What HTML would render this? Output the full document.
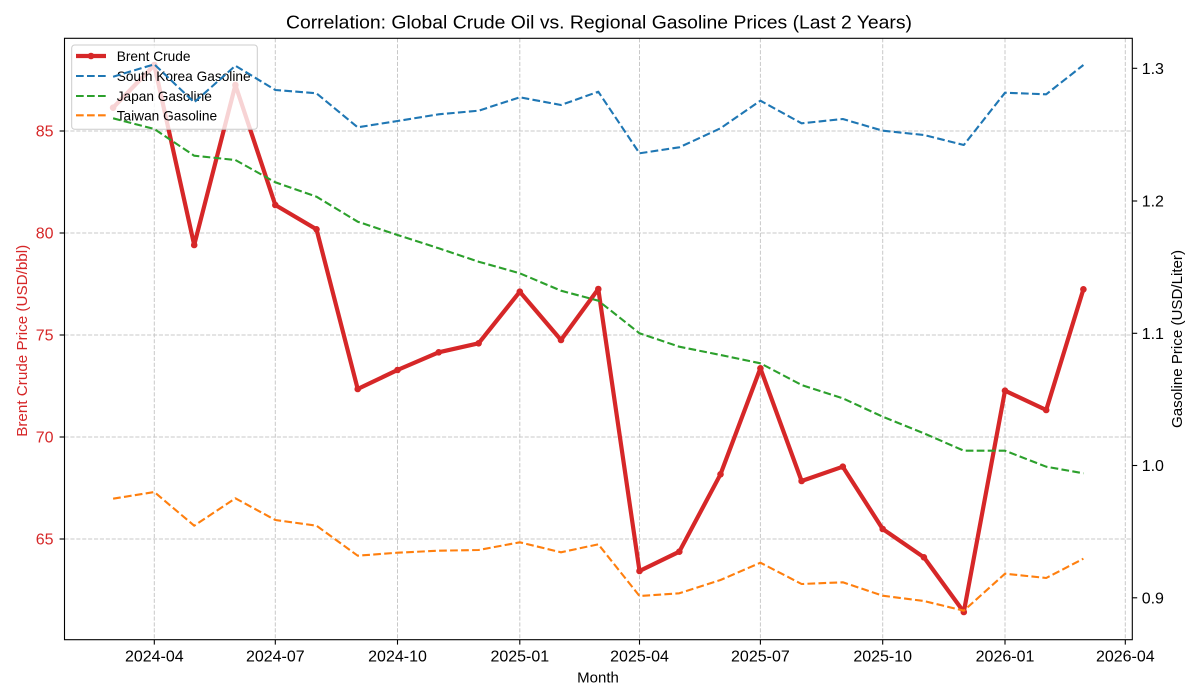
<!DOCTYPE html>
<html>
<head>
<meta charset="utf-8">
<style>
html,body{margin:0;padding:0;background:#fff;}
svg{display:block;font-family:"Liberation Sans",sans-serif;}
</style>
</head>
<body>
<svg width="1200" height="700" viewBox="0 0 1200 700" xmlns="http://www.w3.org/2000/svg">
<rect x="0" y="0" width="1200" height="700" fill="#fff"/>

<!-- Title -->
<text x="599" y="28.3" font-size="18" text-anchor="middle" fill="#000" textLength="626" lengthAdjust="spacingAndGlyphs">Correlation: Global Crude Oil vs. Regional Gasoline Prices (Last 2 Years)</text>

<!-- Grid -->
<g stroke="#c8c8c8" stroke-width="1" stroke-dasharray="4.1,1.8" fill="none">
  <line x1="64.5" y1="131" x2="1132.3" y2="131"/>
  <line x1="64.5" y1="233" x2="1132.3" y2="233"/>
  <line x1="64.5" y1="335" x2="1132.3" y2="335"/>
  <line x1="64.5" y1="437" x2="1132.3" y2="437"/>
  <line x1="64.5" y1="539" x2="1132.3" y2="539"/>
  <line x1="154.3" y1="38.3" x2="154.3" y2="639.7"/>
  <line x1="275.3" y1="38.3" x2="275.3" y2="639.7"/>
  <line x1="397.5" y1="38.3" x2="397.5" y2="639.7"/>
  <line x1="519.8" y1="38.3" x2="519.8" y2="639.7"/>
  <line x1="639.5" y1="38.3" x2="639.5" y2="639.7"/>
  <line x1="760.4" y1="38.3" x2="760.4" y2="639.7"/>
  <line x1="882.7" y1="38.3" x2="882.7" y2="639.7"/>
  <line x1="1005" y1="38.3" x2="1005" y2="639.7"/>
  <line x1="1125.3" y1="38.3" x2="1125.3" y2="639.7"/>
</g>

<!-- Brent Crude -->
<polyline fill="none" stroke="#d62728" stroke-width="4.2" stroke-linejoin="round" stroke-linecap="butt"
 points="113.1,107.7 154.3,65 194.2,245 235.4,85 275.3,205 316.5,229.3 357.7,389 397.5,370 438.7,352.3 478.6,343.3 519.8,291.7 561,340 598.3,289 639.5,571 679.3,551.7 720.5,474.3 760.4,368.3 801.6,481 842.8,466.7 882.7,529 923.9,557.3 963.8,612 1005,390.7 1046.2,410 1083.4,289.3"/>
<g fill="#d62728">
  <circle cx="113.1" cy="107.7" r="3.3"/><circle cx="154.3" cy="65" r="3.3"/><circle cx="194.2" cy="245" r="3.3"/>
  <circle cx="235.4" cy="85" r="3.3"/><circle cx="275.3" cy="205" r="3.3"/><circle cx="316.5" cy="229.3" r="3.3"/>
  <circle cx="357.7" cy="389" r="3.3"/><circle cx="397.5" cy="370" r="3.3"/><circle cx="438.7" cy="352.3" r="3.3"/>
  <circle cx="478.6" cy="343.3" r="3.3"/><circle cx="519.8" cy="291.7" r="3.3"/><circle cx="561" cy="340" r="3.3"/>
  <circle cx="598.3" cy="289" r="3.3"/><circle cx="639.5" cy="571" r="3.3"/><circle cx="679.3" cy="551.7" r="3.3"/>
  <circle cx="720.5" cy="474.3" r="3.3"/><circle cx="760.4" cy="368.3" r="3.3"/><circle cx="801.6" cy="481" r="3.3"/>
  <circle cx="842.8" cy="466.7" r="3.3"/><circle cx="882.7" cy="529" r="3.3"/><circle cx="923.9" cy="557.3" r="3.3"/>
  <circle cx="963.8" cy="612" r="3.3"/><circle cx="1005" cy="390.7" r="3.3"/><circle cx="1046.2" cy="410" r="3.3"/>
  <circle cx="1083.4" cy="289.3" r="3.3"/>
</g>

<!-- Legend -->
<rect x="71.7" y="45" width="185.6" height="84.3" rx="3" ry="3" fill="#fff" fill-opacity="0.8" stroke="#cccccc" stroke-width="1"/>
<line x1="76" y1="56" x2="106" y2="56" stroke="#d62728" stroke-width="4.2"/>
<circle cx="91" cy="56" r="3.3" fill="#d62728"/>
<line x1="76" y1="76" x2="106" y2="76" stroke="#1f77b4" stroke-width="2.1" stroke-dasharray="7.7,3.3"/>
<line x1="76" y1="96" x2="106" y2="96" stroke="#2ca02c" stroke-width="2.1" stroke-dasharray="7.7,3.3"/>
<line x1="76" y1="115.3" x2="106" y2="115.3" stroke="#ff7f0e" stroke-width="2.1" stroke-dasharray="7.7,3.3"/>
<g font-size="13.7" fill="#000">
  <text x="116.7" y="61">Brent Crude</text>
  <text x="116.7" y="81">South Korea Gasoline</text>
  <text x="116.7" y="101">Japan Gasoline</text>
  <text x="116.7" y="120.3">Taiwan Gasoline</text>
</g>

<!-- Gasoline series -->
<g fill="none" stroke-width="2.1" stroke-dasharray="7.7,3.3" stroke-linejoin="round">
<polyline stroke="#1f77b4" points="113.1,76.7 154.3,64.3 194.2,102.3 235.4,65.7 275.3,90 316.5,93.3 357.7,127.3 397.5,121 438.7,114.3 478.6,110.7 519.8,97.3 561,105 598.3,91.7 639.5,153.3 679.3,147.3 720.5,128.3 760.4,100.7 801.6,123.3 842.8,119 882.7,130.7 923.9,135 963.8,145 1005,92.7 1046.2,94.3 1083.4,65"/>
<polyline stroke="#2ca02c" points="113.1,118.3 154.3,129 194.2,155.7 235.4,160 275.3,182.3 316.5,196.7 357.7,221.7 397.5,235 438.7,248.3 478.6,261.7 519.8,273.3 561,290.7 598.3,300.7 639.5,333.3 679.3,346.7 720.5,355 760.4,363.3 801.6,385 842.8,398.3 882.7,416.7 923.9,433.3 963.8,450.7 1005,450.7 1046.2,466.7 1083.4,473.3"/>
<polyline stroke="#ff7f0e" points="113.1,498.7 154.3,492 194.2,525.7 235.4,498.3 275.3,520 316.5,525.7 357.7,555.7 397.5,552.7 438.7,550.7 478.6,550 519.8,542.3 561,552.3 598.3,544.3 639.5,596 679.3,593.3 720.5,580 760.4,562.7 801.6,584 842.8,582.3 882.7,595.7 923.9,601 963.8,610.7 1005,573.7 1046.2,578 1083.4,558.7"/>
</g>

<!-- Spines -->
<rect x="64.5" y="38.3" width="1067.8" height="601.4" fill="none" stroke="#000" stroke-width="1.1"/>

<!-- Ticks -->
<g stroke="#000" stroke-width="1.1">
  <line x1="154.3" y1="639.7" x2="154.3" y2="644.6"/>
  <line x1="275.3" y1="639.7" x2="275.3" y2="644.6"/>
  <line x1="397.5" y1="639.7" x2="397.5" y2="644.6"/>
  <line x1="519.8" y1="639.7" x2="519.8" y2="644.6"/>
  <line x1="639.5" y1="639.7" x2="639.5" y2="644.6"/>
  <line x1="760.4" y1="639.7" x2="760.4" y2="644.6"/>
  <line x1="882.7" y1="639.7" x2="882.7" y2="644.6"/>
  <line x1="1005" y1="639.7" x2="1005" y2="644.6"/>
  <line x1="1125.3" y1="639.7" x2="1125.3" y2="644.6"/>
  <line x1="59.6" y1="131" x2="64.5" y2="131"/>
  <line x1="59.6" y1="233" x2="64.5" y2="233"/>
  <line x1="59.6" y1="335" x2="64.5" y2="335"/>
  <line x1="59.6" y1="437" x2="64.5" y2="437"/>
  <line x1="59.6" y1="539" x2="64.5" y2="539"/>
  <line x1="1132.3" y1="68.3" x2="1137.2" y2="68.3"/>
  <line x1="1132.3" y1="201" x2="1137.2" y2="201"/>
  <line x1="1132.3" y1="333.3" x2="1137.2" y2="333.3"/>
  <line x1="1132.3" y1="465.5" x2="1137.2" y2="465.5"/>
  <line x1="1132.3" y1="597.8" x2="1137.2" y2="597.8"/>
</g>

<!-- X tick labels -->
<g font-size="16" fill="#000" text-anchor="middle">
  <text x="154.3" y="661.7">2024-04</text>
  <text x="275.3" y="661.7">2024-07</text>
  <text x="397.5" y="661.7">2024-10</text>
  <text x="519.8" y="661.7">2025-01</text>
  <text x="639.5" y="661.7">2025-04</text>
  <text x="760.4" y="661.7">2025-07</text>
  <text x="882.7" y="661.7">2025-10</text>
  <text x="1005" y="661.7">2026-01</text>
  <text x="1125.3" y="661.7">2026-04</text>
</g>

<!-- Left tick labels -->
<g font-size="16" fill="#d62728" text-anchor="end">
  <text x="53.5" y="136.7">85</text>
  <text x="53.5" y="238.7">80</text>
  <text x="53.5" y="340.7">75</text>
  <text x="53.5" y="442.7">70</text>
  <text x="53.5" y="544.7">65</text>
</g>

<!-- Right tick labels -->
<g font-size="16" fill="#000" text-anchor="start">
  <text x="1141.7" y="74">1.3</text>
  <text x="1141.7" y="206.7">1.2</text>
  <text x="1141.7" y="339">1.1</text>
  <text x="1141.7" y="471.2">1.0</text>
  <text x="1141.7" y="603.5">0.9</text>
</g>

<!-- Axis labels -->
<text x="598" y="682.3" font-size="15" text-anchor="middle" fill="#000">Month</text>
<text transform="translate(27,340.8) rotate(-90)" font-size="15" text-anchor="middle" fill="#d62728" textLength="192" lengthAdjust="spacingAndGlyphs">Brent Crude Price (USD/bbl)</text>
<text transform="translate(1182,339) rotate(-90)" font-size="15" text-anchor="middle" fill="#000" textLength="178" lengthAdjust="spacingAndGlyphs">Gasoline Price (USD/Liter)</text>
</svg>
</body>
</html>
